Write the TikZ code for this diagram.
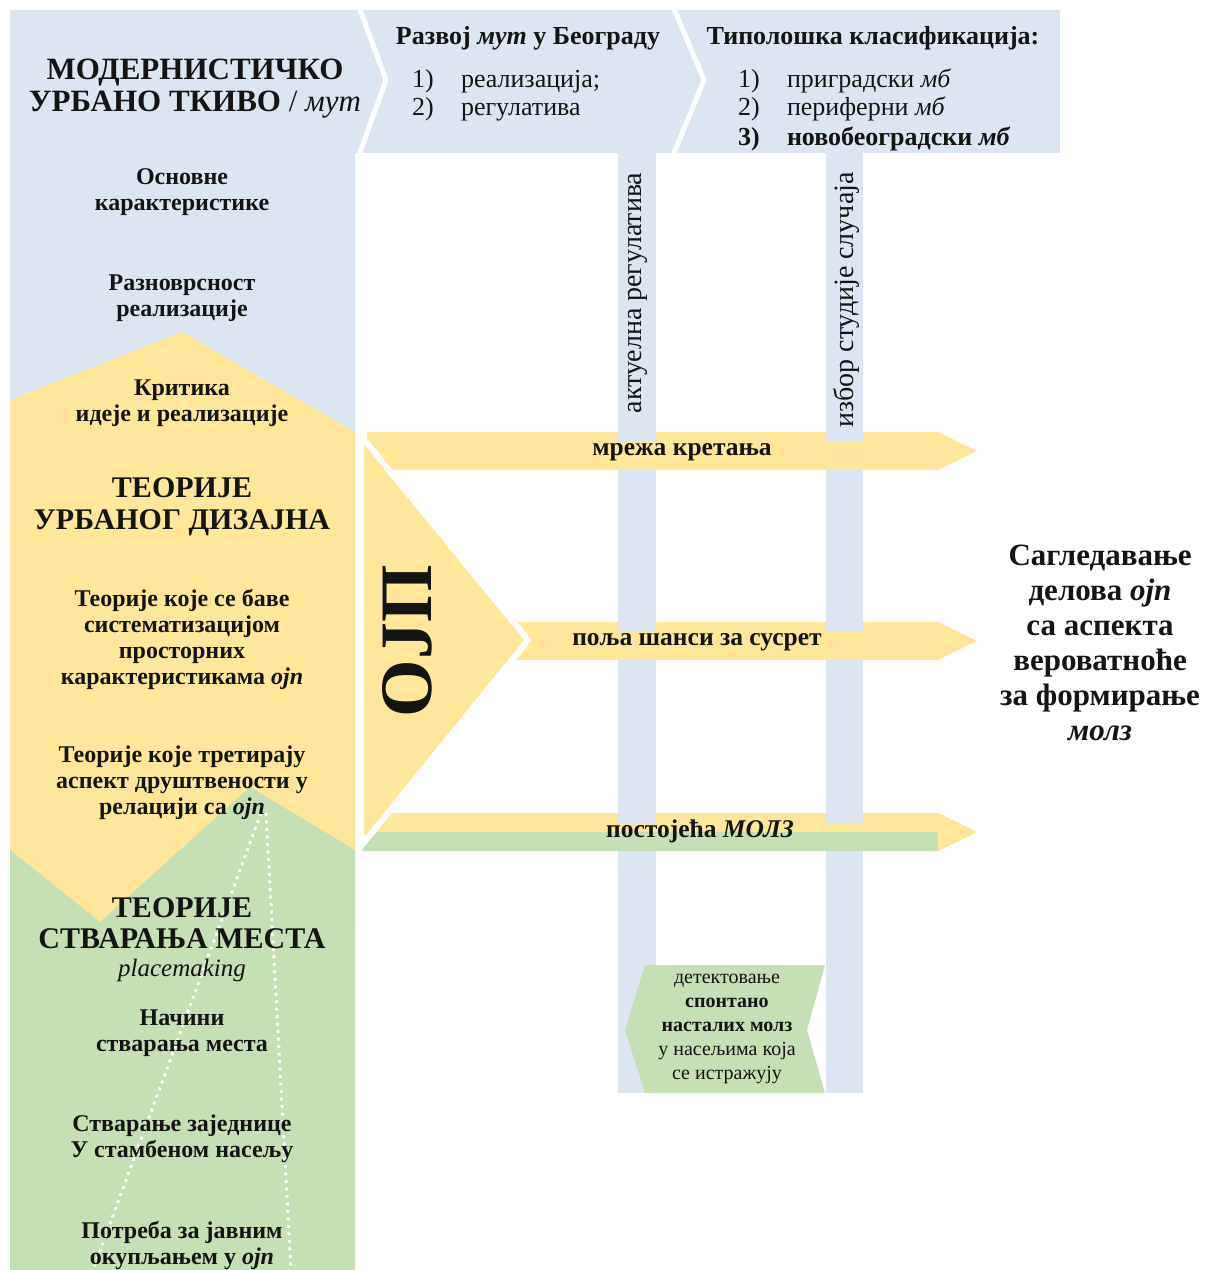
\documentclass[tikz,border=0pt]{standalone}
\usepackage{fontspec}
\setmainfont{Liberation Serif}
\definecolor{cblue}{RGB}{220,230,242}
\definecolor{cyel}{RGB}{255,230,153}
\definecolor{cgreen}{RGB}{197,224,180}
\definecolor{ctext}{RGB}{20,20,20}
\begin{document}
\begin{tikzpicture}[x=1pt,y=-1pt,
  every node/.style={inner sep=0pt, outer sep=0pt, text=ctext},
  lbl/.style={align=center, font=\fontsize{24}{26}\selectfont\bfseries},
  ttl/.style={align=center, font=\fontsize{30}{31.5}\selectfont\bfseries},
  hdrtitle/.style={anchor=base, font=\fontsize{26}{28}\selectfont\bfseries},
  hdritem/.style={anchor=base west, font=\fontsize{26}{28}\selectfont},
  barlbl/.style={font=\fontsize{25.5}{28}\selectfont\bfseries},
  vlbl/.style={rotate=90, font=\fontsize{28}{30}\selectfont},
  sepline/.style={white, line width=5pt, line join=miter},
  dotline/.style={white, line width=3pt, dash pattern=on 3pt off 4.5pt}]
\useasboundingbox (0,0) rectangle (1208,1270);

% ---- background blocks ----
\fill[cblue] (10,10) rectangle (1060,153);
\fill[cblue] (10,10) rectangle (355,445);
\fill[cyel] (10,400) -- (182,332) -- (355,432) -- (355,930) -- (10,930) -- cycle;
\fill[cgreen] (10,850) -- (100,922) -- (250,787) -- (355,850) -- (355,1270) -- (10,1270) -- cycle;
% header chevron separators
\draw[sepline] (358,4) -- (386,80) -- (358,158);
\draw[sepline] (672,4) -- (704,80) -- (672,158);

% ---- horizontal arrows ----
\fill[cyel] (367,432) -- (938,432) -- (977,451) -- (938,470) -- (367,470) -- cycle;
\fill[cyel] (515,622) -- (938,622) -- (977,641) -- (938,660) -- (515,660) -- cycle;
\fill[cyel] (362,813) -- (938,813) -- (977,832) -- (938,851) -- (362,851) -- cycle;
\fill[cgreen] (362,832) rectangle (938,851);

% ---- vertical bars ----
\foreach \xa/\xb in {618/656, 826/863}{
  \fill[cblue] (\xa,153) rectangle (\xb,441);
  \fill[cblue] (\xa,470) rectangle (\xb,632);
  \fill[cblue] (\xa,660) rectangle (\xb,823);
  \fill[cblue] (\xa,851) rectangle (\xb,1093);
}

% ---- big OJP triangle ----
\filldraw[fill=cyel, draw=white, line width=6pt, line join=miter]
  (361,436) -- (528,640) -- (361,846) -- cycle;

% ---- green chevron (detection) ----
\fill[cgreen] (645,965) -- (825,965) -- (807,1030) -- (825,1093) -- (645,1093) -- (625,1030) -- cycle;

% ---- dotted lines ----
\coordinate (dtop1) at (261,813);
\coordinate (dtop2) at (266,813);
\coordinate (dbl) at (93,1270);
\coordinate (dbr) at (291,1270);
\draw[dotline] (dtop1) -- (dbl);
\draw[dotline] (dtop2) -- (dbr);

% ---- header texts ----
\node[anchor=base, font=\fontsize{31}{32}\selectfont\bfseries] (mut1) at (195,79) {МОДЕРНИСТИЧКО};
\node[anchor=base, font=\fontsize{31}{32}\selectfont\bfseries] (mut2) at (195,111) {УРБАНО ТКИВО {\mdseries /} {\mdseries\itshape мут}};

\node[hdrtitle] (razvoj) at (528,44) {Развој \textit{мут} у Београду};
\node[hdritem] (r1n) at (412,87) {1)};
\node[hdritem] (r1t) at (461,87) {реализација;};
\node[hdritem] (r2n) at (412,115) {2)};
\node[hdritem] (r2t) at (461,115) {регулатива};

\node[hdrtitle] (tipol) at (873,44) {Типолошка класификација:};
\node[hdritem] (t1n) at (738,87) {1)};
\node[hdritem] (t1t) at (787,87) {приградски \textit{мб}};
\node[hdritem] (t2n) at (738,115) {2)};
\node[hdritem] (t2t) at (787,115) {периферни \textit{мб}};
\node[hdritem, font=\fontsize{26}{28}\selectfont\bfseries] (t3n) at (738,145) {3)};
\node[hdritem, font=\fontsize{26}{28}\selectfont\bfseries] (t3t) at (787,145) {новобеоградски \textit{мб}};

% ---- left column texts ----
\node[lbl] (osn) at (182,192) {Основне\\карактеристике};
\node[lbl] (razn) at (182,298) {Разноврсност\\реализације};
\node[lbl] (krit) at (182,403) {Критика\\идеје и реализације};
\node[ttl] (tud) at (182,507) {ТЕОРИЈЕ\\УРБАНОГ ДИЗАЈНА};
\node[lbl] (tsis) at (182,639) {Теорије које се баве\\систематизацијом\\просторних\\карактеристикама \textit{ојп}};
\node[lbl] (ttre) at (182,783) {Теорије које третирају\\аспект друштвености у\\релацији са \textit{ојп}};
\node[ttl] (tsm) at (182,923) {ТЕОРИЈЕ\\СТВАРАЊА МЕСТА};
\node[font=\fontsize{25}{28}\selectfont\itshape] (plm) at (182,970) {placemaking};
\node[lbl] (nac) at (182,1033) {Начини\\стварања места};
\node[lbl] (zaj) at (182,1139) {Стварање заједнице\\У стамбеном насељу};
\node[lbl] (pot) at (182,1245) {Потреба за јавним\\окупљањем у \textit{ојп}};

% ---- OJP ----
\node[rotate=90, font=\fontsize{74}{80}\selectfont\bfseries] (ojp) at (407,641) {ОЈП};

% ---- vertical bar labels ----
\node[vlbl] (akt) at (638,293) {актуелна регулатива};
\node[vlbl] (izb) at (846,300) {избор студије случаја};

% ---- arrow labels ----
\node[barlbl] (mreza) at (682,452) {мрежа кретања};
\node[barlbl] (polja) at (697,642) {поља шанси за сусрет};
\node[barlbl] (molz) at (700,831) {постојећа \textit{МОЛЗ}};

% ---- detection chevron text ----
\node[align=center, font=\fontsize{20}{24}\selectfont] (detek) at (727,1029)
  {детектовање\\\textbf{спонтано}\\\textbf{насталих молз}\\у насељима која\\се истражују};

% ---- right conclusion ----
\node[align=center, font=\fontsize{31}{35}\selectfont\bfseries] (sagl) at (1100,643)
  {Сагледавање\\делова \textit{ојп}\\са аспекта\\вероватноће\\за формирање\\\textit{молз}};
\end{tikzpicture}
\end{document}
